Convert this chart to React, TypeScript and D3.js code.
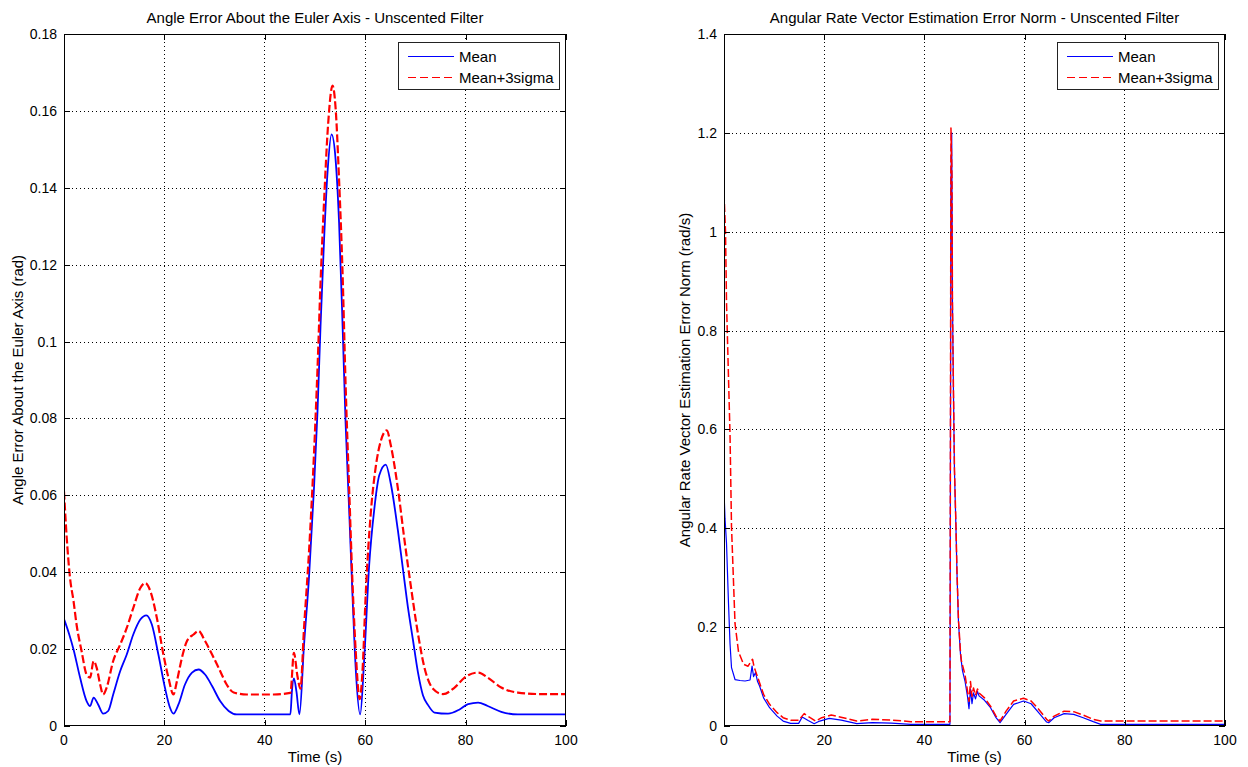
import { useEffect, useRef } from 'react';
import * as d3 from 'd3';

type Pt = [number, number];

// Left panel: angle error about the Euler axis (rad), time in s
const angleMean: Pt[] = [
  [0, 0.0278], [1, 0.024], [1.9, 0.0199], [3.2, 0.0126], [4.5, 0.0065], [5.2, 0.0052],
  [5.9, 0.0074], [6.8, 0.0056], [7.8, 0.0032], [8.8, 0.0039], [9.8, 0.0082], [11.2, 0.0143],
  [12.5, 0.0186], [13.8, 0.0238], [15.2, 0.0277], [16.4, 0.0288], [17.5, 0.0264], [18.8, 0.0186],
  [20.1, 0.01], [21.1, 0.0048], [21.8, 0.0032], [22.8, 0.0056], [24.1, 0.0108], [25.5, 0.0139],
  [26.8, 0.0147], [28.1, 0.0134], [29.5, 0.0104], [31.1, 0.0065], [32.8, 0.0039], [34.4, 0.003],
  [40, 0.003], [45.1, 0.003], [45.4, 0.009], [45.8, 0.0124], [46.3, 0.009], [46.9, 0.003],
  [47.8, 0.0208], [48.8, 0.0386], [49.8, 0.0619], [50.5, 0.0819], [51.1, 0.104], [51.8, 0.1263],
  [52.5, 0.1441], [53.3, 0.1539], [54.1, 0.1474], [54.8, 0.1308], [55.5, 0.104], [56.1, 0.0786],
  [56.8, 0.0563], [57.5, 0.033], [58.1, 0.0152], [59, 0.003], [59.8, 0.0174], [60.8, 0.042],
  [61.8, 0.0563], [62.8, 0.0652], [64.1, 0.068], [65.1, 0.063], [66.5, 0.051], [67.5, 0.041],
  [68.5, 0.031], [69.5, 0.0225], [70.5, 0.014], [71.5, 0.008], [72.5, 0.0055], [73.8, 0.0035],
  [76.5, 0.0032], [78.8, 0.0043], [80.5, 0.0057], [82.5, 0.0061], [84.4, 0.0052], [87.1, 0.0037],
  [90.4, 0.003], [100, 0.003],
];

const angleSigma: Pt[] = [
  [0, 0.061], [0.5, 0.0498], [1.2, 0.0385], [1.9, 0.0325], [2.5, 0.0264], [3.5, 0.0195],
  [4.5, 0.0134], [5.2, 0.0126], [5.9, 0.0169], [6.5, 0.0152], [7.2, 0.0108], [7.8, 0.0082],
  [8.5, 0.01], [9.8, 0.0169], [11.2, 0.0212], [12.5, 0.0255], [13.8, 0.0307], [15.2, 0.0359],
  [16.2, 0.0372], [17.2, 0.0351], [18.5, 0.0281], [19.8, 0.0186], [20.8, 0.0126], [21.8, 0.0082],
  [22.5, 0.0117], [23.5, 0.0178], [24.5, 0.0221], [25.8, 0.0238], [26.8, 0.0247], [28.1, 0.0221],
  [29.5, 0.0186], [31.1, 0.0143], [32.4, 0.0108], [33.8, 0.0087], [36.4, 0.0082], [41.8, 0.0082],
  [45.1, 0.0086], [45.8, 0.019], [46.5, 0.013], [47.1, 0.0097], [47.8, 0.0252], [48.8, 0.0452],
  [49.8, 0.0708], [50.5, 0.093], [51.1, 0.1152], [51.8, 0.1363], [52.6, 0.1563], [53.5, 0.1666],
  [54.1, 0.1608], [54.8, 0.1419], [55.5, 0.1174], [56.1, 0.0886], [56.8, 0.0619], [57.5, 0.0363],
  [58.1, 0.0197], [58.9, 0.007], [59.5, 0.0152], [60.1, 0.0341], [61.1, 0.0552], [62.1, 0.0674],
  [63.1, 0.0741], [64.3, 0.0769], [65.1, 0.073], [66.5, 0.0619], [67.8, 0.0486], [69.1, 0.0363],
  [70.5, 0.0241], [71.8, 0.0152], [73.5, 0.0097], [75.5, 0.0083], [77.8, 0.01], [79.8, 0.0126],
  [82.5, 0.0139], [84.4, 0.0126], [87.1, 0.01], [90.4, 0.0087], [95, 0.0083], [100, 0.0083],
];

// Right panel: angular rate vector estimation error norm (rad/s)
const rateMean: Pt[] = [
  [0, 0.476], [0.2, 0.42], [0.5, 0.37], [0.9, 0.248], [1.2, 0.167], [1.5, 0.118], [2.2, 0.094],
  [3.2, 0.092], [4.2, 0.091], [5.2, 0.093], [5.6, 0.121], [5.9, 0.1], [6.3, 0.108], [6.7, 0.09],
  [7.1, 0.081], [7.9, 0.057], [9.1, 0.037], [10.6, 0.02], [11.8, 0.01], [13.3, 0.0054],
  [14.9, 0.0054], [15.6, 0.018], [16.8, 0.011], [18, 0.0047], [19.1, 0.01], [21, 0.0155],
  [23.4, 0.012], [26.5, 0.0047], [29.6, 0.0067], [33.4, 0.006], [37.3, 0.0034], [45.1, 0.0034],
  [45.3, 1.1], [45.45, 1.2], [45.6, 0.86], [45.8, 0.674], [46, 0.517], [46.3, 0.4], [46.5, 0.31],
  [46.8, 0.211], [47.2, 0.145], [47.6, 0.112], [48.1, 0.091], [48.6, 0.06], [48.9, 0.035],
  [49.2, 0.075], [49.5, 0.045], [49.8, 0.067], [50.2, 0.055], [50.6, 0.07], [50.9, 0.061],
  [52, 0.052], [53.2, 0.037], [54.3, 0.017], [55.1, 0.0067], [56.3, 0.0236], [57.8, 0.0438],
  [59.8, 0.0505], [61.3, 0.045], [62.8, 0.027], [64.4, 0.008], [64.8, 0.0067], [65.9, 0.0168],
  [67.9, 0.025], [69.8, 0.0236], [71.7, 0.0168], [73.7, 0.0088], [75.2, 0.0034], [100, 0.0034],
];

const rateSigma: Pt[] = [
  [0, 1.078], [0.3, 1.0], [0.5, 0.858], [0.9, 0.704], [1.2, 0.59], [1.5, 0.403], [2.2, 0.207],
  [2.9, 0.15], [3.9, 0.125], [4.8, 0.121], [5.4, 0.131], [5.7, 0.135], [6, 0.12], [6.3, 0.111],
  [7.1, 0.0875], [7.9, 0.064], [9.1, 0.0438], [10.6, 0.027], [11.8, 0.0168], [13.3, 0.0114],
  [14.9, 0.0114], [16, 0.025], [17.2, 0.0168], [18.3, 0.01], [19.5, 0.0168], [21.4, 0.0222],
  [23.8, 0.0168], [26.5, 0.01], [29.6, 0.0135], [33.4, 0.012], [37.3, 0.0088], [45.1, 0.0088],
  [45.3, 1.21], [45.5, 1.11], [45.6, 0.855], [45.8, 0.68], [46, 0.52], [46.3, 0.405], [46.5, 0.315],
  [46.8, 0.215], [47.2, 0.15], [47.4, 0.131], [48.1, 0.104], [48.6, 0.071], [48.9, 0.05],
  [49.2, 0.09], [49.5, 0.06], [49.8, 0.077], [50.2, 0.062], [50.6, 0.075], [50.9, 0.067],
  [52, 0.057], [53.2, 0.04], [54.3, 0.02], [55.1, 0.0101], [56.3, 0.03], [57.8, 0.0505],
  [59.8, 0.056], [61.3, 0.0505], [62.8, 0.034], [64.4, 0.0135], [64.8, 0.0101], [65.9, 0.02],
  [67.9, 0.03], [69.8, 0.029], [71.7, 0.0222], [73.7, 0.0135], [75.2, 0.0101], [100, 0.0101],
];

const timeTicks = [0, 20, 40, 60, 80, 100];
const angleTicks = [0, 0.02, 0.04, 0.06, 0.08, 0.1, 0.12, 0.14, 0.16, 0.18];
const rateTicks = [0, 0.2, 0.4, 0.6, 0.8, 1, 1.2, 1.4];
const legendLabels = ['Mean', 'Mean+3sigma'];

const FONT = '"Liberation Sans", Arial, Helvetica, sans-serif';
const BLUE = '#0000ff';
const RED = '#ff0000';

interface PanelCfg {
  id: string;
  x0: number;
  x1: number;
  title: string;
  ylabel: string;
  ylabelX: number;
  yTicks: number[];
  digits: number;
  mean: Pt[];
  sigma: Pt[];
  smooth: boolean;
  meanWidth: number;
  sigmaWidth: number;
}

const TOP = 34;
const BOTTOM = 726;

function drawPanel(svg: d3.Selection<SVGSVGElement, unknown, null, undefined>, cfg: PanelCfg) {
  const x = d3.scaleLinear().domain([0, 100]).range([cfg.x0, cfg.x1]);
  const yMax = cfg.yTicks[cfg.yTicks.length - 1];
  const y = d3.scaleLinear().domain([0, yMax]).range([BOTTOM, TOP]);
  const g = svg.append('g');
  const w = cfg.x1 - cfg.x0;
  const h = BOTTOM - TOP;

  g.append('rect')
    .attr('x', cfg.x0).attr('y', TOP).attr('width', w).attr('height', h)
    .attr('fill', '#fff');

  // grid
  g.append('g').selectAll('line')
    .data(timeTicks.slice(1, -1))
    .join('line')
    .attr('x1', (d) => x(d)).attr('x2', (d) => x(d))
    .attr('y1', TOP).attr('y2', BOTTOM)
    .attr('stroke', '#000').attr('stroke-width', 1)
    .attr('stroke-dasharray', '1,3')
    .attr('shape-rendering', 'crispEdges');
  g.append('g').selectAll('line')
    .data(cfg.yTicks.slice(1, -1))
    .join('line')
    .attr('x1', cfg.x0).attr('x2', cfg.x1)
    .attr('y1', (d) => Math.round(y(d)) + 0.5).attr('y2', (d) => Math.round(y(d)) + 0.5)
    .attr('stroke', '#000').attr('stroke-width', 1)
    .attr('stroke-dasharray', '1,3');

  // data lines
  g.append('clipPath').attr('id', `clip-${cfg.id}`)
    .append('rect').attr('x', cfg.x0).attr('y', TOP).attr('width', w).attr('height', h);

  const line = d3.line<Pt>()
    .x((d) => x(d[0]))
    .y((d) => y(d[1]))
    .curve(cfg.smooth ? d3.curveMonotoneX : d3.curveLinear);

  const lines = g.append('g').attr('clip-path', `url(#clip-${cfg.id})`);
  lines.append('path')
    .datum(cfg.mean)
    .attr('d', line)
    .attr('fill', 'none')
    .attr('stroke', BLUE)
    .attr('stroke-width', cfg.meanWidth)
    .attr('stroke-linejoin', 'round');
  lines.append('path')
    .datum(cfg.sigma)
    .attr('d', line)
    .attr('fill', 'none')
    .attr('stroke', RED)
    .attr('stroke-width', cfg.sigmaWidth)
    .attr('stroke-dasharray', '8,3')
    .attr('stroke-linejoin', 'round');

  // box
  g.append('rect')
    .attr('x', cfg.x0 + 0.5).attr('y', TOP + 0.5).attr('width', w - 1).attr('height', h - 1)
    .attr('fill', 'none').attr('stroke', '#000').attr('stroke-width', 1);

  // ticks, inside on all four sides
  const tl = 6;
  const tk = g.append('g').attr('stroke', '#000').attr('stroke-width', 1);
  timeTicks.forEach((t) => {
    const px = Math.round(x(t)) + 0.5;
    tk.append('line').attr('x1', px).attr('x2', px).attr('y1', BOTTOM).attr('y2', BOTTOM - tl);
    tk.append('line').attr('x1', px).attr('x2', px).attr('y1', TOP).attr('y2', TOP + tl);
  });
  cfg.yTicks.forEach((v) => {
    const py = Math.round(y(v)) + 0.5;
    tk.append('line').attr('x1', cfg.x0).attr('x2', cfg.x0 + tl).attr('y1', py).attr('y2', py);
    tk.append('line').attr('x1', cfg.x1).attr('x2', cfg.x1 - tl).attr('y1', py).attr('y2', py);
  });

  // tick labels
  g.append('g').selectAll('text')
    .data(timeTicks)
    .join('text')
    .attr('x', (d) => x(d))
    .attr('y', BOTTOM + 19)
    .attr('text-anchor', 'middle')
    .attr('font-family', FONT).attr('font-size', 14).attr('fill', '#000')
    .text((d) => String(d));
  g.append('g').selectAll('text')
    .data(cfg.yTicks)
    .join('text')
    .attr('x', cfg.x0 - 7)
    .attr('y', (d) => y(d) + 5)
    .attr('text-anchor', 'end')
    .attr('font-family', FONT).attr('font-size', 14).attr('fill', '#000')
    .text((d) => (d === 0 ? '0' : String(+d.toFixed(cfg.digits))));

  // title and labels
  g.append('text')
    .attr('x', (cfg.x0 + cfg.x1) / 2).attr('y', 23)
    .attr('text-anchor', 'middle')
    .attr('font-family', FONT).attr('font-size', 15).attr('fill', '#000')
    .text(cfg.title);
  g.append('text')
    .attr('x', (cfg.x0 + cfg.x1) / 2).attr('y', 762)
    .attr('text-anchor', 'middle')
    .attr('font-family', FONT).attr('font-size', 15).attr('fill', '#000')
    .text('Time (s)');
  g.append('text')
    .attr('transform', `translate(${cfg.ylabelX},${(TOP + BOTTOM) / 2}) rotate(-90)`)
    .attr('text-anchor', 'middle')
    .attr('font-family', FONT).attr('font-size', 15).attr('fill', '#000')
    .text(cfg.ylabel);

  // legend
  const lw = 161;
  const lx = cfg.x1 - 7 - lw;
  const ly = 42;
  const lg = g.append('g');
  lg.append('rect')
    .attr('x', lx + 0.5).attr('y', ly + 0.5).attr('width', lw).attr('height', 47)
    .attr('fill', '#fff').attr('stroke', '#222').attr('stroke-width', 1);
  legendLabels.forEach((label, i) => {
    const cy = ly + 14 + i * 21;
    lg.append('line')
      .attr('x1', lx + 10).attr('x2', lx + 56)
      .attr('y1', cy + 0.5).attr('y2', cy + 0.5)
      .attr('stroke', i === 0 ? BLUE : RED)
      .attr('stroke-width', 1)
      .attr('stroke-dasharray', i === 0 ? null : '8,4');
    lg.append('text')
      .attr('x', lx + 61).attr('y', cy + 5.5)
      .attr('font-family', FONT).attr('font-size', 15).attr('fill', '#000')
      .text(label);
  });
}

export default function App() {
  const svgRef = useRef<SVGSVGElement | null>(null);

  useEffect(() => {
    document.body.style.margin = '0';
    if (!svgRef.current) return;
    const svg = d3.select(svgRef.current);
    svg.selectAll('*').remove();

    drawPanel(svg, {
      id: 'angle',
      x0: 64,
      x1: 566,
      title: 'Angle Error About the Euler Axis - Unscented Filter',
      ylabel: 'Angle Error About the Euler Axis (rad)',
      ylabelX: 23,
      yTicks: angleTicks,
      digits: 2,
      mean: angleMean,
      sigma: angleSigma,
      smooth: true,
      meanWidth: 1.8,
      sigmaWidth: 2.2,
    });

    drawPanel(svg, {
      id: 'rate',
      x0: 724,
      x1: 1225,
      title: 'Angular Rate Vector Estimation Error Norm - Unscented Filter',
      ylabel: 'Angular Rate Vector Estimation Error Norm (rad/s)',
      ylabelX: 690,
      yTicks: rateTicks,
      digits: 1,
      mean: rateMean,
      sigma: rateSigma,
      smooth: false,
      meanWidth: 1.2,
      sigmaWidth: 1.5,
    });
  }, []);

  return (
    <svg
      ref={svgRef}
      width={1248}
      height={767}
      style={{ position: 'absolute', left: 0, top: 0, background: '#fff' }}
    />
  );
}
